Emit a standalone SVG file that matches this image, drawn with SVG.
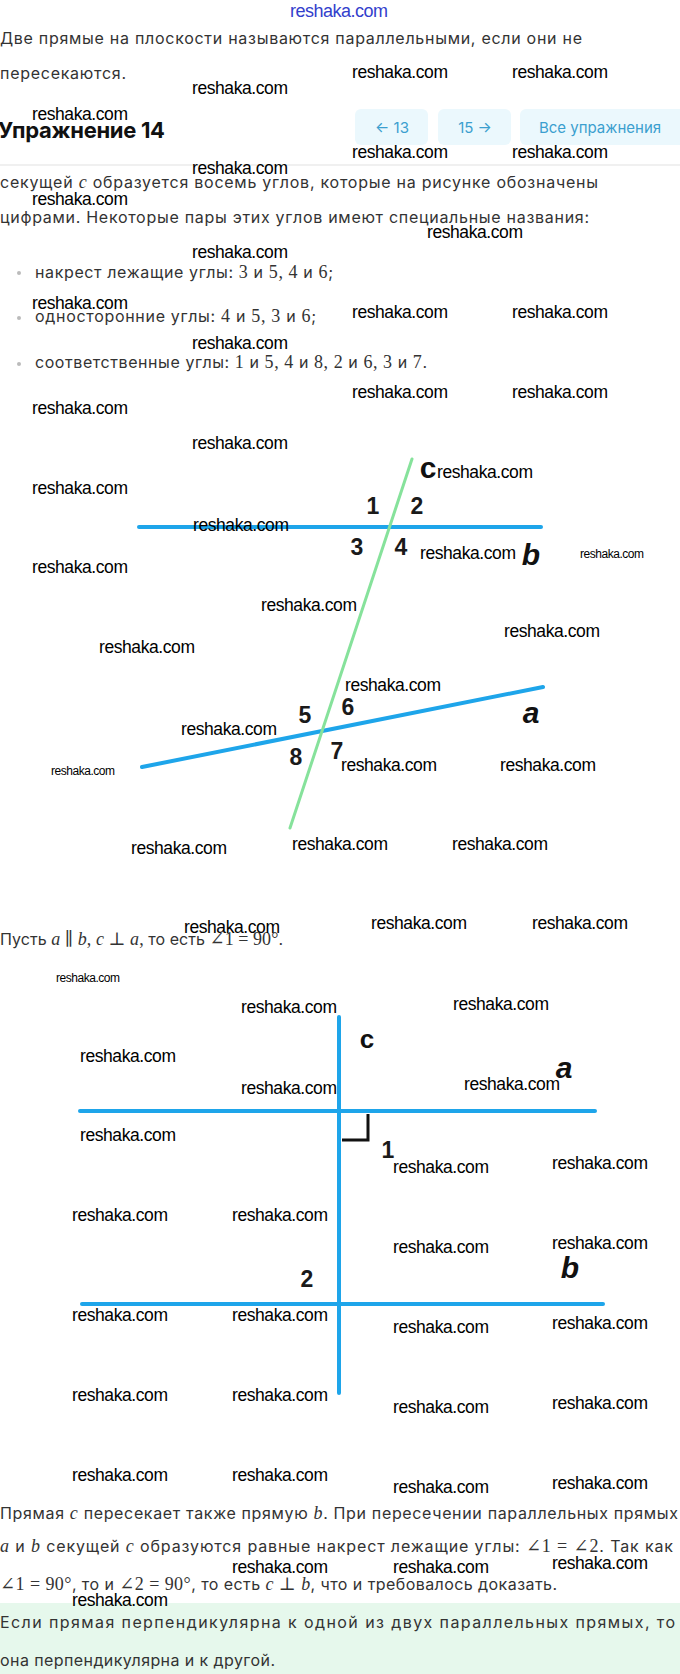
<svg xmlns="http://www.w3.org/2000/svg" width="680" height="1674" viewBox="0 0 680 1674">
<style>
.wm{font-family:"Liberation Sans",Arial,sans-serif;font-size:17.5px;fill:#000}
.wms{font-family:"Liberation Sans",Arial,sans-serif;font-size:12px;fill:#000}
.t{font-family:Inter,"Noto Sans",sans-serif;font-size:16px;fill:#333}
.m{font-family:"Liberation Serif","DejaVu Serif",serif;font-size:18px}
.mi{font-family:"Liberation Serif","DejaVu Serif",serif;font-size:18px;font-style:italic}
.btn{fill:#ebf8fd}
.bt{font-family:Inter,"Noto Sans",sans-serif;font-size:15px;fill:#3b9fcf;text-anchor:middle}
.blue{stroke:#1ea5ea;stroke-width:4;stroke-linecap:round;fill:none}
.green{stroke:#86e29b;stroke-width:3;stroke-linecap:round;fill:none}
.num{font-family:"Liberation Sans",Arial,sans-serif;font-size:23px;font-weight:bold;fill:#1a1a1a;text-anchor:middle}
.var{font-family:"Liberation Sans",Arial,sans-serif;font-size:30px;font-weight:bold;font-style:italic;fill:#111;text-anchor:middle}
.dot{fill:#bbb}
</style>
<rect width="680" height="1674" fill="#fff"/>

<g id="top-link">
<text x="290" y="17" font-family="Liberation Sans, Arial, sans-serif" font-size="18" fill="#3340cc" textLength="98">reshaka.com</text>
</g>

<g id="intro">
<text class="t" x="0" y="44" textLength="582">Две прямые на плоскости называются параллельными, если они не</text>
<text class="t" x="0" y="79" textLength="126">пересекаются.</text>
</g>

<g id="header">
<text x="-2" y="138" font-family="Inter, 'Noto Sans', sans-serif" font-size="22" font-weight="bold" fill="#111" textLength="167">Упражнение 14</text>
<rect class="btn" x="355" y="109" width="73" height="36" rx="6"/>
<rect class="btn" x="438" y="109" width="73" height="36" rx="6"/>
<rect class="btn" x="520" y="109" width="170" height="36" rx="6"/>
<text class="bt" x="392" y="133">← 13</text>
<text class="bt" x="475" y="133">15 →</text>
<text class="bt" x="600" y="133">Все упражнения</text>
<rect x="0" y="164" width="680" height="2" fill="#f0f0f0"/>
</g>

<g id="definitions">
<text class="t" x="0" y="188" textLength="598">секущей <tspan class="mi">c</tspan> образуется восемь углов, которые на рисунке обозначены</text>
<text class="t" x="0" y="223" textLength="589">цифрами. Некоторые пары этих углов имеют специальные названия:</text>
<circle class="dot" cx="19" cy="273" r="2"/>
<text class="t" x="35" y="278" textLength="298">накрест лежащие углы: <tspan class="m">3</tspan> и <tspan class="m">5, 4</tspan> и <tspan class="m">6</tspan>;</text>
<circle class="dot" cx="19" cy="318" r="2"/>
<text class="t" x="35" y="322" textLength="281">односторонние углы: <tspan class="m">4</tspan> и <tspan class="m">5, 3</tspan> и <tspan class="m">6</tspan>;</text>
<circle class="dot" cx="19" cy="364" r="2"/>
<text class="t" x="35" y="368" textLength="392">соответственные углы: <tspan class="m">1</tspan> и <tspan class="m">5, 4</tspan> и <tspan class="m">8, 2</tspan> и <tspan class="m">6, 3</tspan> и <tspan class="m">7</tspan>.</text>
</g>

<g id="connectors">
<line class="blue" x1="139" y1="527" x2="541" y2="527"/>
<line class="blue" x1="142" y1="767" x2="543" y2="687"/>
<line class="green" x1="412" y1="459" x2="290" y2="828"/>
<line class="blue" x1="339" y1="1017" x2="339" y2="1393"/>
<line class="blue" x1="80" y1="1111" x2="595" y2="1111"/>
<line class="blue" x1="82" y1="1304" x2="603" y2="1304"/>
<path d="M342 1140 H368 V1114" stroke="#111" stroke-width="3" fill="none"/>
</g>

<g id="figure1-labels">
<text x="428" y="478" font-family="Liberation Sans, Arial, sans-serif" font-size="30" font-weight="bold" fill="#111" text-anchor="middle">c</text>
<text class="num" x="373" y="514">1</text>
<text class="num" x="417" y="514">2</text>
<text class="num" x="357" y="555">3</text>
<text class="num" x="401" y="555">4</text>
<text class="num" x="305" y="723">5</text>
<text class="num" x="348" y="715">6</text>
<text class="num" x="337" y="759">7</text>
<text class="num" x="296" y="765">8</text>
<text class="var" x="531" y="565">b</text>
<text class="var" x="531" y="723">a</text>
</g>

<g id="statement">
<text class="t" x="0" y="945" textLength="283">Пусть <tspan class="mi">a</tspan> <tspan class="m">∥</tspan> <tspan class="mi">b</tspan><tspan class="m">,</tspan> <tspan class="mi">c</tspan> <tspan class="m">⊥</tspan> <tspan class="mi">a</tspan><tspan class="m">,</tspan> то есть <tspan class="m">∠1 = 90°</tspan>.</text>
</g>

<g id="figure2-labels">
<text x="367" y="1048" font-family="Liberation Sans, Arial, sans-serif" font-size="26" font-weight="bold" fill="#111" text-anchor="middle">c</text>
<text class="var" x="564" y="1078" font-size="28">a</text>
<text class="var" x="570" y="1278" font-size="28">b</text>
<text class="num" x="388" y="1158" font-size="21" font-weight="normal">1</text>
<text class="num" x="307" y="1287">2</text>
</g>

<g id="proof">
<text class="t" x="0" y="1519" textLength="678">Прямая <tspan class="mi">c</tspan> пересекает также прямую <tspan class="mi">b</tspan>. При пересечении параллельных прямых</text>
<text class="t" x="0" y="1552" textLength="673"><tspan class="mi">a</tspan> и <tspan class="mi">b</tspan> секущей <tspan class="mi">c</tspan> образуются равные накрест лежащие углы: <tspan class="m">∠1 = ∠2</tspan>. Так как</text>
<text class="t" x="0" y="1590" textLength="557"><tspan class="m">∠1 = 90°</tspan>, то и <tspan class="m">∠2 = 90°</tspan>, то есть <tspan class="mi">c</tspan> <tspan class="m">⊥</tspan> <tspan class="mi">b</tspan>, что и требовалось доказать.</text>
</g>

<g id="conclusion">
<rect x="0" y="1603" width="680" height="71" fill="#e6f8ec"/>
<text class="t" x="0" y="1628" textLength="675">Если прямая перпендикулярна к одной из двух параллельных прямых, то</text>
<text class="t" x="0" y="1666" textLength="275">она перпендикулярна и к другой.</text>
</g>

<g id="watermarks">
<text class="wm" x="352" y="78" textLength="96">reshaka.com</text>
<text class="wm" x="512" y="78" textLength="96">reshaka.com</text>
<text class="wm" x="192" y="94" textLength="96">reshaka.com</text>
<text class="wm" x="32" y="120" textLength="96">reshaka.com</text>
<text class="wm" x="352" y="158" textLength="96">reshaka.com</text>
<text class="wm" x="512" y="158" textLength="96">reshaka.com</text>
<text class="wm" x="192" y="174" textLength="96">reshaka.com</text>
<text class="wm" x="32" y="205" textLength="96">reshaka.com</text>
<text class="wm" x="427" y="238" textLength="96">reshaka.com</text>
<text class="wm" x="192" y="258" textLength="96">reshaka.com</text>
<text class="wm" x="32" y="309" textLength="96">reshaka.com</text>
<text class="wm" x="352" y="318" textLength="96">reshaka.com</text>
<text class="wm" x="512" y="318" textLength="96">reshaka.com</text>
<text class="wm" x="192" y="349" textLength="96">reshaka.com</text>
<text class="wm" x="32" y="414" textLength="96">reshaka.com</text>
<text class="wm" x="352" y="398" textLength="96">reshaka.com</text>
<text class="wm" x="512" y="398" textLength="96">reshaka.com</text>
<text class="wm" x="192" y="449" textLength="96">reshaka.com</text>
<text class="wm" x="32" y="494" textLength="96">reshaka.com</text>
<text class="wm" x="437" y="478" textLength="96">reshaka.com</text>
<text class="wm" x="193" y="531" textLength="96">reshaka.com</text>
<text class="wm" x="420" y="559" textLength="96">reshaka.com</text>
<text class="wms" x="580" y="558" textLength="64">reshaka.com</text>
<text class="wm" x="32" y="573" textLength="96">reshaka.com</text>
<text class="wm" x="261" y="611" textLength="96">reshaka.com</text>
<text class="wm" x="504" y="637" textLength="96">reshaka.com</text>
<text class="wm" x="99" y="653" textLength="96">reshaka.com</text>
<text class="wm" x="345" y="691" textLength="96">reshaka.com</text>
<text class="wm" x="181" y="735" textLength="96">reshaka.com</text>
<text class="wm" x="341" y="771" textLength="96">reshaka.com</text>
<text class="wm" x="500" y="771" textLength="96">reshaka.com</text>
<text class="wms" x="51" y="775" textLength="64">reshaka.com</text>
<text class="wm" x="131" y="854" textLength="96">reshaka.com</text>
<text class="wm" x="292" y="850" textLength="96">reshaka.com</text>
<text class="wm" x="452" y="850" textLength="96">reshaka.com</text>
<text class="wm" x="184" y="933" textLength="96">reshaka.com</text>
<text class="wm" x="371" y="929" textLength="96">reshaka.com</text>
<text class="wm" x="532" y="929" textLength="96">reshaka.com</text>
<text class="wms" x="56" y="982" textLength="64">reshaka.com</text>
<text class="wm" x="241" y="1013" textLength="96">reshaka.com</text>
<text class="wm" x="453" y="1010" textLength="96">reshaka.com</text>
<text class="wm" x="80" y="1062" textLength="96">reshaka.com</text>
<text class="wm" x="241" y="1094" textLength="96">reshaka.com</text>
<text class="wm" x="464" y="1090" textLength="96">reshaka.com</text>
<text class="wm" x="80" y="1141" textLength="96">reshaka.com</text>
<text class="wm" x="393" y="1173" textLength="96">reshaka.com</text>
<text class="wm" x="552" y="1169" textLength="96">reshaka.com</text>
<text class="wm" x="72" y="1221" textLength="96">reshaka.com</text>
<text class="wm" x="232" y="1221" textLength="96">reshaka.com</text>
<text class="wm" x="393" y="1253" textLength="96">reshaka.com</text>
<text class="wm" x="552" y="1249" textLength="96">reshaka.com</text>
<text class="wm" x="72" y="1321" textLength="96">reshaka.com</text>
<text class="wm" x="232" y="1321" textLength="96">reshaka.com</text>
<text class="wm" x="393" y="1333" textLength="96">reshaka.com</text>
<text class="wm" x="552" y="1329" textLength="96">reshaka.com</text>
<text class="wm" x="72" y="1401" textLength="96">reshaka.com</text>
<text class="wm" x="232" y="1401" textLength="96">reshaka.com</text>
<text class="wm" x="393" y="1413" textLength="96">reshaka.com</text>
<text class="wm" x="552" y="1409" textLength="96">reshaka.com</text>
<text class="wm" x="72" y="1481" textLength="96">reshaka.com</text>
<text class="wm" x="232" y="1481" textLength="96">reshaka.com</text>
<text class="wm" x="393" y="1493" textLength="96">reshaka.com</text>
<text class="wm" x="552" y="1489" textLength="96">reshaka.com</text>
<text class="wm" x="232" y="1573" textLength="96">reshaka.com</text>
<text class="wm" x="393" y="1573" textLength="96">reshaka.com</text>
<text class="wm" x="552" y="1569" textLength="96">reshaka.com</text>
<text class="wm" x="72" y="1606" textLength="96">reshaka.com</text>
</g>
</svg>
